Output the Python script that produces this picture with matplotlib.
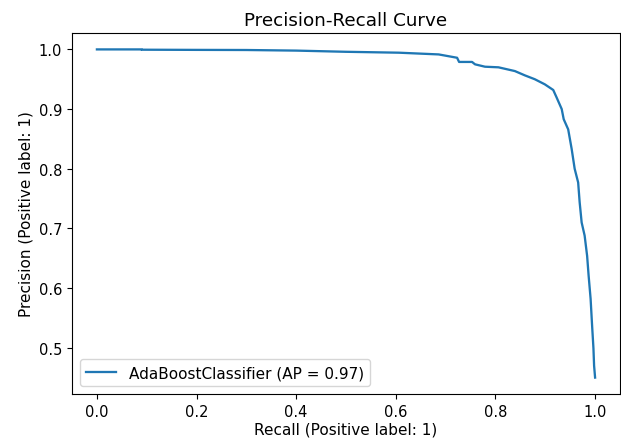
import matplotlib
matplotlib.use("Agg")
import matplotlib.pyplot as plt

recall = [0.0, 0.09, 0.09, 0.2, 0.3, 0.4, 0.5, 0.606, 0.686, 0.723, 0.727, 0.753, 0.759,
          0.779, 0.806, 0.839, 0.859, 0.879, 0.899, 0.916, 0.923, 0.933, 0.937,
          0.946, 0.953, 0.959, 0.966, 0.969, 0.973, 0.979, 0.984, 0.987, 0.991,
          0.994, 0.9967, 0.998, 1.0]
precision = [1.0, 1.0, 0.9995, 0.9992, 0.999, 0.998, 0.996, 0.9945, 0.9916, 0.986, 0.979, 0.979, 0.975,
             0.971, 0.970, 0.9637, 0.9565, 0.95, 0.9415, 0.932, 0.919, 0.900, 0.883,
             0.866, 0.833, 0.80, 0.777, 0.744, 0.710, 0.688, 0.654, 0.621, 0.582,
             0.537, 0.499, 0.47, 0.45]

label = "AdaBoostClassifier (AP = 0.97)"

plt.rcParams["font.size"] = 11
fig = plt.figure(figsize=(6.21, 4.39), dpi=100)
ax = fig.add_axes([72/621, (439-395)/439, (620-72)/621, (395-34)/439])
ax.plot(recall, precision, color="#1f77b4", linewidth=1.65, label=label)
ax.tick_params(labelsize=10.5)
ax.set_xlabel("Recall (Positive label: 1)", labelpad=2)
ax.set_ylabel("Precision (Positive label: 1)")
ax.set_title("Precision-Recall Curve")
ax.legend(loc="lower left")
fig.savefig("out.png", dpi=100)
